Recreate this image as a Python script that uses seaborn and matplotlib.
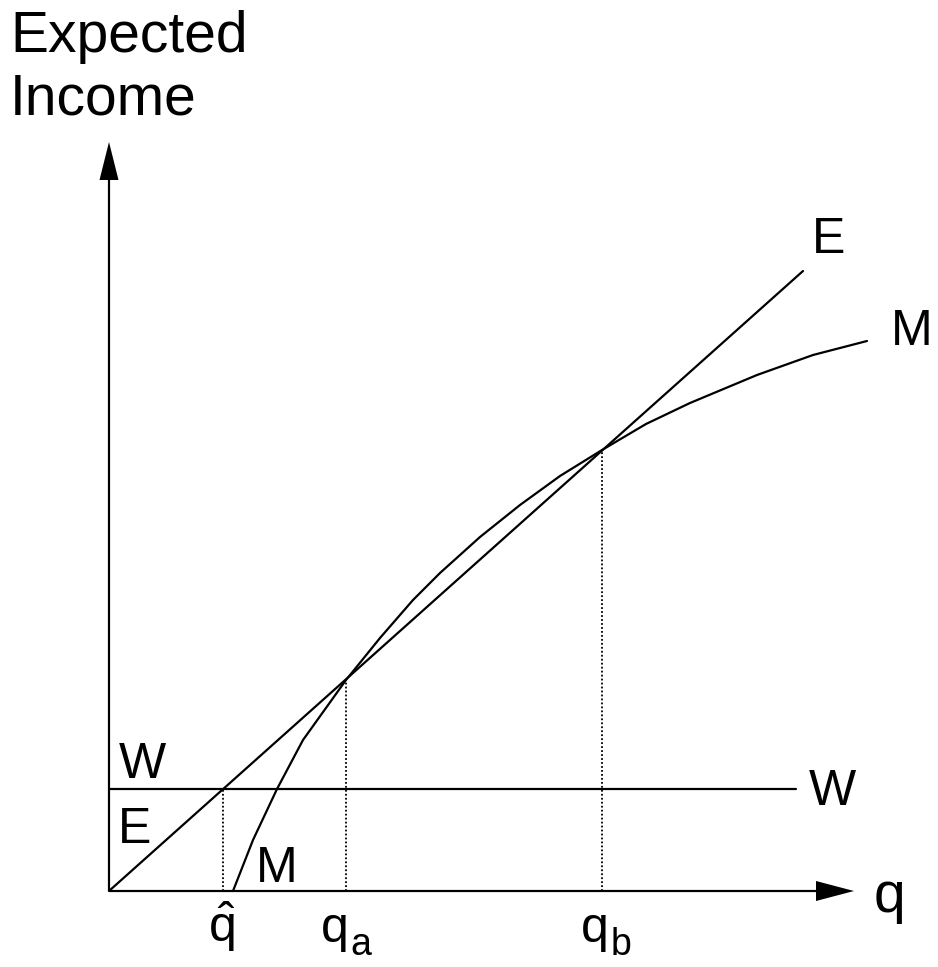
import matplotlib
matplotlib.use("Agg")
import matplotlib.pyplot as plt
import seaborn as sns
import pandas as pd

# ---- data (value units: origin of the diagram at 0,0) ----
q_E = [0.0, 69.4]
income_E = [0.0, 62.0]

W_level = 10.2
q_W = [0.0, 68.7]

q_M = [12.4, 14.4, 16.8, 19.4, 23.7, 27.1, 30.4, 33.1, 37.1, 41.1, 45.1,
       49.3, 53.7, 58.1, 64.8, 70.4, 75.8]
income_M = [0.0, 5.1, 10.2, 15.1, 21.1, 25.3, 29.1, 31.8, 35.4, 38.6, 41.5,
            44.1, 46.7, 48.8, 51.6, 53.6, 55.0]

mark_q = [11.4, 23.7, 49.3]          # q-hat, q_a, q_b
mark_top = [10.2, 21.1, 44.1]
mark_main = [r"$\hat{\mathrm{q}}$", "q", "q"]
mark_sub = ["", "a", "b"]

x_axis_end = 74.5
y_axis_end = 74.9

sns.set_style("white")
plt.rcParams["font.family"] = ["Liberation Sans", "DejaVu Sans"]
plt.rcParams["text.color"] = "black"
plt.rcParams["mathtext.fontset"] = "custom"
plt.rcParams["mathtext.rm"] = "Liberation Sans"
plt.rcParams["mathtext.it"] = "Liberation Sans"
plt.rcParams["mathtext.bf"] = "Liberation Sans:bold"

fig = plt.figure(figsize=(9.38, 9.67), dpi=100)
ax = fig.add_axes([0, 0, 1, 1])
ax.set_xlim(-10.9, 82.9)
ax.set_ylim(-7.6, 89.1)
ax.axis("off")

dfE = pd.DataFrame({"q": q_E, "inc": income_E})
dfM = pd.DataFrame({"q": q_M, "inc": income_M})
dfW = pd.DataFrame({"q": q_W, "inc": [W_level] * len(q_W)})

lw = 1.6
sns.lineplot(data=dfE, x="q", y="inc", ax=ax, color="black", lw=lw, estimator=None)
sns.lineplot(data=dfM, x="q", y="inc", ax=ax, color="black", lw=lw, estimator=None)
sns.lineplot(data=dfW, x="q", y="inc", ax=ax, color="black", lw=lw, estimator=None)

ax.vlines(mark_q, 0, mark_top, colors="black", lw=1.3, linestyles=(0, (1, 1.2)))

# axes with arrows
ax.arrow(0, 0, x_axis_end, 0, width=0.22, head_width=2.0, head_length=3.8,
         length_includes_head=True, color="black", lw=0)
ax.arrow(0, 0, 0, y_axis_end, width=0.22, head_width=1.9, head_length=3.8,
         length_includes_head=True, color="black", lw=0)

big = 41
lab = 36
sub = 27
ax.text(-9.9, 83.9, "Expected", fontsize=big, va="baseline", ha="left")
ax.text(-9.9, 77.6, "Income", fontsize=big, va="baseline", ha="left")
ax.text(76.5, -2.1, "q", fontsize=big, va="baseline", ha="left")

ax.text(70.3, 63.8, "E", fontsize=lab, va="baseline", ha="left")
ax.text(78.2, 54.6, "M", fontsize=lab, va="baseline", ha="left")
ax.text(1.0, 11.3, "W", fontsize=lab, va="baseline", ha="left")
ax.text(0.9, 4.8, "E", fontsize=lab, va="baseline", ha="left")
ax.text(14.7, 0.9, "M", fontsize=lab, va="baseline", ha="left")
ax.text(70.0, 8.6, "W", fontsize=lab, va="baseline", ha="left")

label_x = [9.9, 21.2, 47.2]
sub_x = [0.0, 24.1, 50.2]
for x, t, sx, s in zip(label_x, mark_main, sub_x, mark_sub):
    ax.text(x, -5.1, t, fontsize=lab, va="baseline", ha="left")
    if s:
        ax.text(sx, -6.4, s, fontsize=sub, va="baseline", ha="left")

fig.savefig("out.png", dpi=100)
